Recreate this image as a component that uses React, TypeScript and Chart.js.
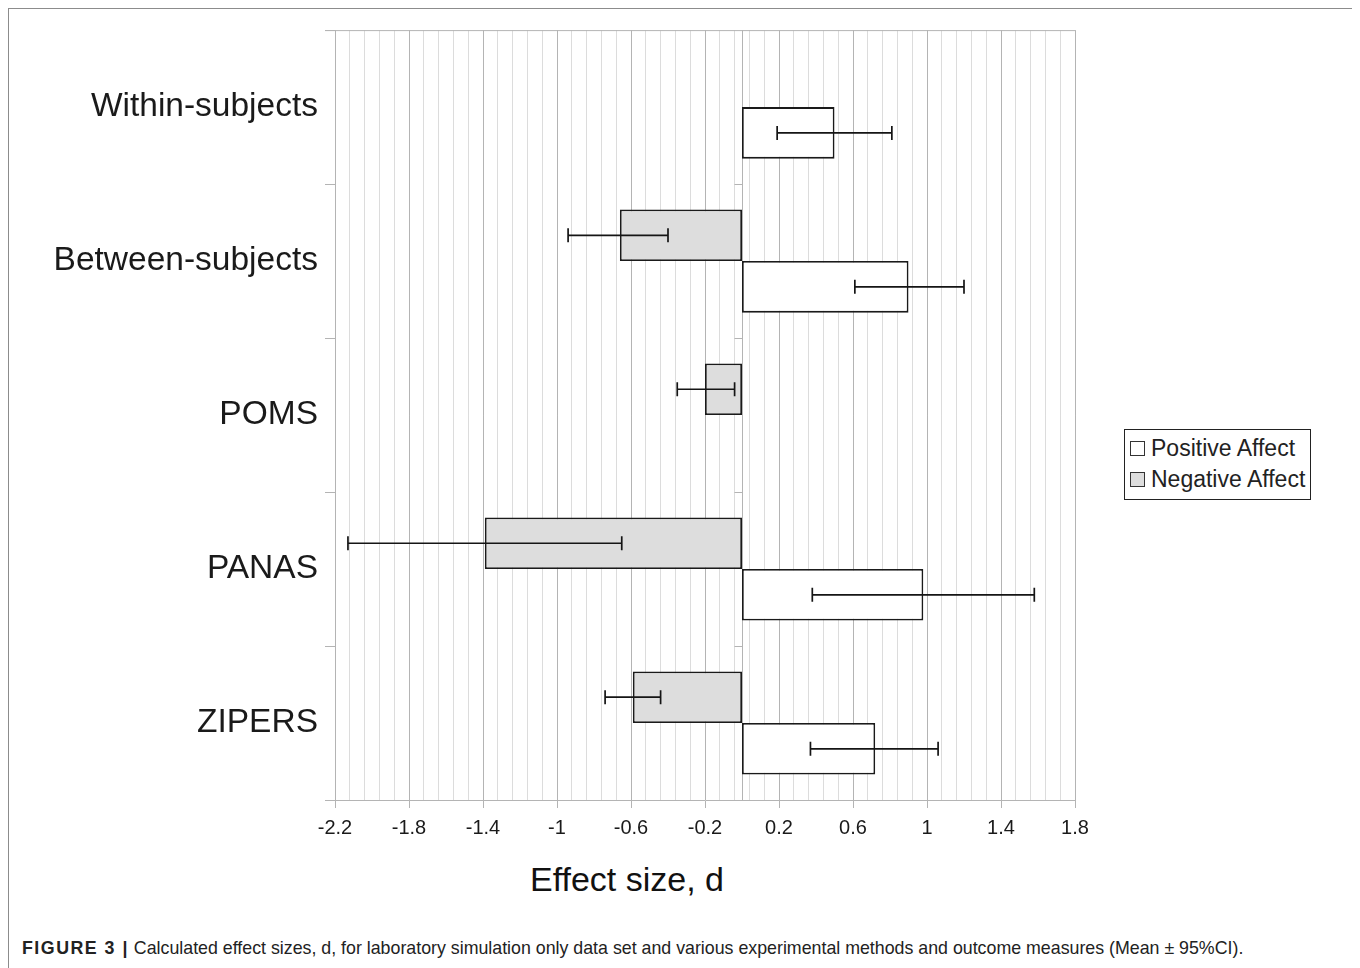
import React, { useEffect, useRef } from 'react';
import { Chart, registerables } from 'chart.js';

Chart.register(...registerables);

const categories = ['Within-subjects', 'Between-subjects', 'POMS', 'PANAS', 'ZIPERS'];
const positiveAffect = [0.5, 0.9, null, 0.98, 0.72];
const negativeAffect = [null, -0.66, -0.2, -1.39, -0.59];
const positiveLow = [0.19, 0.61, null, 0.38, 0.37];
const positiveHigh = [0.81, 1.2, null, 1.58, 1.06];
const negativeLow = [null, -0.94, -0.35, -2.13, -0.74];
const negativeHigh = [null, -0.4, -0.04, -0.65, -0.44];
const xTickLabels = ['-2.2', '-1.8', '-1.4', '-1', '-0.6', '-0.2', '0.2', '0.6', '1', '1.4', '1.8'];
const xMin = -2.2;
const xMax = 1.8;
const xMajorStep = 0.4;
const xMinorPerMajor = 5;

const FONT = "'Liberation Sans', Arial, Helvetica, sans-serif";
const MAJOR_GRID = '#b4b4b4';
const MINOR_GRID = '#dcdcdc';

const errorBarPlugin = {
  id: 'errorBars',
  afterDatasetsDraw(chart: any) {
    const ctx = chart.ctx;
    const xs = chart.scales.x;
    chart.data.datasets.forEach((ds: any, di: number) => {
      const meta = chart.getDatasetMeta(di);
      meta.data.forEach((el: any, i: number) => {
        const lo = ds.errLow[i];
        const hi = ds.errHigh[i];
        if (lo == null || hi == null || ds.data[i] == null) return;
        const y = el.y;
        const x1 = xs.getPixelForValue(lo);
        const x2 = xs.getPixelForValue(hi);
        ctx.save();
        ctx.strokeStyle = '#151515';
        ctx.lineWidth = 1.7;
        ctx.beginPath();
        ctx.moveTo(x1, y);
        ctx.lineTo(x2, y);
        ctx.moveTo(x1, y - 7);
        ctx.lineTo(x1, y + 7);
        ctx.moveTo(x2, y - 7);
        ctx.lineTo(x2, y + 7);
        ctx.stroke();
        ctx.restore();
      });
    });
  },
};

const framePlugin = {
  id: 'frameLines',
  beforeDatasetsDraw(chart: any) {
    const ctx = chart.ctx;
    const { left, right, top, bottom } = chart.chartArea;
    const xs = chart.scales.x;
    const ys = chart.scales.y;
    const x0 = Math.round(xs.getPixelForValue(0)) + 0.5;
    ctx.save();
    ctx.strokeStyle = MAJOR_GRID;
    ctx.lineWidth = 1;
    ctx.beginPath();
    ctx.moveTo(left - 10, top + 0.5);
    ctx.lineTo(right, top + 0.5);
    ctx.moveTo(x0, top);
    ctx.lineTo(x0, bottom);
    for (let i = 1; i < categories.length; i++) {
      const yb = Math.round((ys.getPixelForValue(i - 1) + ys.getPixelForValue(i)) / 2) + 0.5;
      ctx.moveTo(x0 - 8, yb);
      ctx.lineTo(x0, yb);
    }
    ctx.stroke();
    ctx.restore();
  },
};

function ChartView() {
  const ref = useRef<HTMLCanvasElement | null>(null);
  useEffect(() => {
    if (!ref.current) return;
    const chart = new Chart(ref.current, {
      type: 'bar',
      data: {
        labels: categories,
        datasets: [
          {
            label: 'Negative Affect',
            data: negativeAffect as any,
            backgroundColor: '#dddddd',
            borderColor: '#1a1a1a',
            borderWidth: 1.8,
            borderSkipped: false,
            errLow: negativeLow,
            errHigh: negativeHigh,
          } as any,
          {
            label: 'Positive Affect',
            data: positiveAffect as any,
            backgroundColor: '#ffffff',
            borderColor: '#1a1a1a',
            borderWidth: 1.8,
            borderSkipped: false,
            errLow: positiveLow,
            errHigh: positiveHigh,
          } as any,
        ],
      },
      options: {
        indexAxis: 'y',
        responsive: false,
        animation: false,
        devicePixelRatio: 1,
        datasets: { bar: { categoryPercentage: 0.67, barPercentage: 1.0 } },
        layout: { padding: { top: 10, right: 25, left: 0, bottom: 0 } },
        plugins: {
          legend: { display: false },
          tooltip: { enabled: false },
        },
        scales: {
          x: {
            type: 'linear',
            min: xMin,
            max: xMax,
            afterBuildTicks(scale: any) {
              const n = (xTickLabels.length - 1) * xMinorPerMajor;
              const step = xMajorStep / xMinorPerMajor;
              const t = [];
              for (let i = 0; i <= n; i++) t.push({ value: +(xMin + i * step).toFixed(4) });
              scale.ticks = t;
            },
            afterFit(scale: any) {
              scale.height = 40;
            },
            ticks: {
              autoSkip: false,
              maxRotation: 0,
              padding: 8,
              color: '#1a1a1a',
              font: { family: FONT, size: 20 },
              callback: (_v: any, index: number) =>
                index % xMinorPerMajor === 0 ? xTickLabels[index / xMinorPerMajor] : '',
            },
            grid: {
              color: (c: any) => (c.index % xMinorPerMajor === 0 ? MAJOR_GRID : MINOR_GRID),
              tickColor: (c: any) => (c.index % xMinorPerMajor === 0 ? MAJOR_GRID : 'rgba(0,0,0,0)'),
              tickLength: 8,
              lineWidth: 1,
            },
            border: { display: true, color: MAJOR_GRID, width: 1 },
          },
          y: {
            type: 'category',
            afterFit(scale: any) {
              scale.width = 315;
            },
            ticks: {
              padding: 7,
              color: '#1a1a1a',
              font: { family: FONT, size: 33.5 },
            },
            grid: {
              drawOnChartArea: false,
              drawTicks: true,
              tickLength: 10,
              offset: true,
              color: MAJOR_GRID,
            },
            border: { display: true, color: MAJOR_GRID, width: 1 },
          },
        },
      },
      plugins: [framePlugin, errorBarPlugin],
    } as any);
    return () => chart.destroy();
  }, []);
  return (
    <canvas
      ref={ref}
      width={1080}
      height={837}
      style={{ position: 'absolute', left: 12, top: -5, width: 1080, height: 837 }}
    />
  );
}

const legendItems = [
  { label: 'Positive Affect', fill: '#ffffff' },
  { label: 'Negative Affect', fill: '#dddddd' },
];

export default function App() {
  return (
    <div style={{ position: 'relative', width: 1344, height: 960, fontFamily: FONT }}>
      <div
        style={{
          position: 'absolute',
          left: 0,
          top: 0,
          width: 1348,
          height: 1000,
          border: '1px solid #8c8c8c',
          boxSizing: 'border-box',
        }}
      />
      <ChartView />
      <div
        style={{
          position: 'absolute',
          left: 1116,
          top: 421,
          width: 187,
          height: 71,
          border: '1px solid #222',
          boxSizing: 'border-box',
          background: '#fff',
          paddingTop: 3,
        }}
      >
        {legendItems.map((it) => (
          <div
            key={it.label}
            style={{ display: 'flex', alignItems: 'center', height: 31, paddingLeft: 5 }}
          >
            <span
              style={{
                display: 'inline-block',
                width: 13,
                height: 13,
                border: '1px solid #333',
                background: it.fill,
                marginRight: 6,
              }}
            />
            <span style={{ fontSize: 23, color: '#222', lineHeight: 1 }}>{it.label}</span>
          </div>
        ))}
      </div>
      <div
        style={{
          position: 'absolute',
          left: 522,
          top: 854,
          fontSize: 34,
          lineHeight: 1,
          color: '#111',
          whiteSpace: 'nowrap',
        }}
      >
        Effect size, d
      </div>
      <div
        style={{
          position: 'absolute',
          left: 14,
          top: 932,
          fontSize: 17.8,
          lineHeight: 1,
          color: '#222',
          whiteSpace: 'nowrap',
        }}
      >
        <b style={{ letterSpacing: 1.5 }}>FIGURE 3 |</b> Calculated effect sizes, d, for laboratory simulation only data set and various
        experimental methods and outcome measures (Mean ± 95%CI).
      </div>
    </div>
  );
}
